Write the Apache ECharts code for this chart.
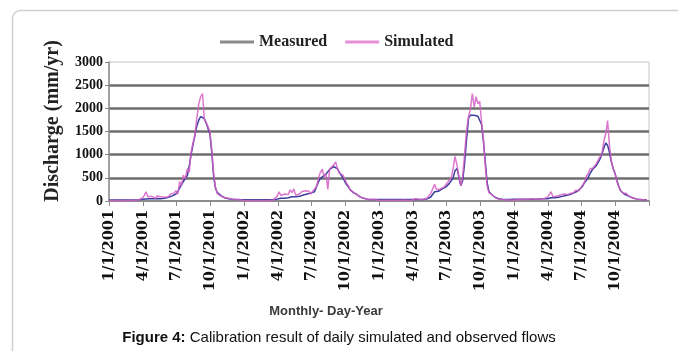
<!DOCTYPE html>
<html>
<head>
<meta charset="utf-8">
<script src="https://cdn.jsdelivr.net/npm/echarts@6/dist/echarts.min.js"></script>
<style>
html,body{margin:0;padding:0;background:#fff;}
#chart{width:678px;height:351px;}
</style>
</head>
<body>
<div id="chart"></div>
<script>
// sample days inside each month (pentads), years shown on the axis
const years = [2001, 2002, 2003, 2004];
const sampleDays = [1, 6, 11, 16, 21, 26];

// quarterly tick labels on the x axis
const tickLabels = ['1/1/2001','4/1/2001','7/1/2001','10/1/2001',
    '1/1/2002','4/1/2002','7/1/2002','10/1/2002',
    '1/1/2003','4/1/2003','7/1/2003','10/1/2003',
    '1/1/2004','4/1/2004','7/1/2004','10/1/2004'];

// measured discharge (mm/yr), one row per month
const measured = [
    // 2001
    20,20,20,20,20,20,  20,20,20,20,20,20,  20,20,22,25,25,30,
    40,50,45,60,50,45,  50,45,55,60,50,55,  60,70,80,90,110,130,
    150,200,280,350,420,480,  550,750,1000,1200,1400,1600,  1750,1820,1850,1780,1680,1650,
    1450,1050,550,280,180,150,  110,80,65,55,50,45,  40,40,35,35,30,30,
    // 2002
    25,25,25,25,25,25,  25,25,25,25,25,25,  25,25,25,30,30,35,
    40,50,60,50,60,70,  70,80,90,80,90,100,  100,120,130,140,150,160,
    170,180,200,300,400,480,  520,550,580,620,680,720,  740,760,700,620,560,500,
    420,350,300,240,200,170,  150,120,90,70,60,50,  40,40,35,35,30,30,
    // 2003
    30,30,30,30,30,30,  30,30,30,30,30,30,  30,30,30,30,30,30,
    35,35,40,40,35,35,  35,40,45,60,80,120,  200,180,210,230,260,280,
    300,340,380,420,500,650,  700,500,330,450,800,1300,  1800,1850,1870,1850,1850,1830,
    1800,1650,1300,850,400,200,  150,110,80,60,50,45,  40,40,35,35,30,30,
    // 2004
    40,40,40,40,40,40,  40,40,40,45,40,40,  40,40,45,45,50,50,
    50,60,70,60,70,80,  80,90,100,110,120,130,  140,150,170,190,210,240,
    280,330,400,450,520,600,  680,720,760,800,900,1000,  1150,1250,1200,1050,850,700,
    600,450,320,220,180,150,  130,110,90,70,60,50,  40,35,30,30,25,25
];

// simulated discharge (mm/yr), same sampling
const simulated = [
    // 2001
    10,10,10,10,10,10,  10,10,10,10,10,10,  10,10,15,15,20,20,
    60,110,200,90,70,100,  80,60,110,70,90,60,  80,120,90,150,110,170,
    220,150,420,330,560,480,  700,620,1050,1250,1380,1750,  2100,2250,2320,1750,1700,1600,
    1500,1100,600,300,160,140,  100,80,70,110,60,50,  40,35,30,30,25,25,
    // 2002
    10,10,10,10,10,10,  10,10,10,10,10,10,  10,10,10,15,20,30,
    100,200,120,80,150,110,  140,240,180,260,130,160,  150,200,170,220,180,210,
    150,210,180,300,470,600,  690,520,580,250,690,720,  780,846,700,600,580,560,
    550,380,330,230,210,180,  150,130,90,70,60,50,  40,35,35,30,30,25,
    // 2003
    15,15,15,15,15,15,  15,15,15,15,15,15,  15,15,20,20,15,15,
    20,30,50,40,30,25,  30,40,60,90,150,250,  360,250,220,260,290,300,
    350,400,430,500,700,960,  760,500,325,540,1000,1500,  1830,2000,2320,2030,2250,2100,
    2150,1700,1340,760,325,180,  150,110,80,60,40,35,  30,30,25,25,20,20,
    // 2004
    20,30,25,60,30,25,  30,60,40,30,50,30,  30,40,50,60,45,50,
    80,100,200,90,120,100,  100,130,110,150,120,140,  160,200,180,230,260,220,
    300,350,420,540,600,700,  700,750,800,820,950,1000,  1300,1450,1735,1200,870,700,
    600,420,320,230,180,150,  160,110,90,70,60,50,  40,30,30,25,25,20
];

// day offsets from 1/1/2001 for every sample
const dayOffsets = [];
years.forEach(function(y) {
    for (let m = 0; m < 12; m++) {
        sampleDays.forEach(function(d) {
            dayOffsets.push((Date.UTC(y, m, d) - Date.UTC(2001, 0, 1)) / 86400000);
        });
    }
});
const totalDays = (Date.UTC(2005, 0, 1) - Date.UTC(2001, 0, 1)) / 86400000;
const quarter = totalDays / 16;

function pairs(values) {
    return values.map(function(v, i) { return [dayOffsets[i], v]; });
}

const serif = 'Liberation Serif, Times New Roman, serif';
const chart = echarts.init(document.getElementById('chart'));

const option = {
    backgroundColor: '#fff',
    animation: false,
    grid: {
        left: 109, right: 29, top: 62, bottom: 150,
        show: true, borderColor: '#c4c4c4', borderWidth: 1
    },
    legend: {
        left: 215, top: 29,
        icon: 'rect',
        itemWidth: 34, itemHeight: 3, itemGap: 18,
        textStyle: {fontFamily: serif, fontWeight: 'bold', fontSize: 16, color: '#222'},
        data: [
            {name: 'Measured', itemStyle: {color: '#8a8a8a'}},
            {name: 'Simulated', itemStyle: {color: '#e58fd6'}}
        ]
    },
    xAxis: {
        type: 'value',
        min: 0, max: totalDays, interval: quarter,
        axisLine: {lineStyle: {color: '#8c8c8c', width: 2}},
        axisTick: {show: true, length: 5, lineStyle: {color: '#8c8c8c'}},
        splitLine: {show: false},
        axisLabel: {
            rotate: 90, margin: 9,
            fontFamily: 'DejaVu Serif, serif', fontWeight: 'bold', fontSize: 14.5, color: '#111',
            formatter: function(v) {
                return tickLabels[Math.round(v / quarter)] || '';
            }
        }
    },
    yAxis: {
        type: 'value',
        min: 0, max: 3000, interval: 500,
        axisLine: {show: true, lineStyle: {color: '#8c8c8c', width: 1.5}},
        axisTick: {show: true, length: 4, lineStyle: {color: '#8c8c8c'}},
        axisLabel: {
            margin: 6, fontFamily: serif, fontWeight: 'bold', fontSize: 14, color: '#111',
            formatter: function(v) { return String(v); }
        },
        splitLine: {
            show: true, showMinLine: false, showMaxLine: false,
            lineStyle: {color: '#6e6e6e', width: 2.5}
        }
    },
    series: [
        {
            name: 'Measured', type: 'line', symbol: 'none',
            lineStyle: {color: '#3a3d9e', width: 1.5},
            itemStyle: {color: '#3a3d9e'},
            data: pairs(measured)
        },
        {
            name: 'Simulated', type: 'line', symbol: 'none',
            lineStyle: {color: '#d660c4', width: 1.5, opacity: 0.85},
            itemStyle: {color: '#d660c4'},
            data: pairs(simulated)
        }
    ],
    graphic: [
        // card frame around the figure
        {
            type: 'rect', silent: true, z: -10,
            shape: {x: 12.5, y: 10.5, width: 720, height: 420, r: 8},
            style: {fill: 'none', stroke: '#cfcfcf', lineWidth: 1.5}
        },
        {
            type: 'text', x: 53, y: 121, rotation: Math.PI / 2,
            style: {
                text: 'Discharge (mm/yr)', fill: '#222',
                font: 'bold 20px ' + serif,
                textAlign: 'center', textVerticalAlign: 'middle'
            }
        },
        {
            type: 'text', x: 326, y: 311,
            style: {
                text: 'Monthly- Day-Year', fill: '#3a3a3a',
                font: 'bold 13px Liberation Sans, Arial, sans-serif',
                textAlign: 'center', textVerticalAlign: 'middle'
            }
        },
        {
            type: 'text', x: 339, y: 338,
            style: {
                text: '{b|Figure 4:} Calibration result of daily simulated and observed flows',
                fill: '#111',
                font: '15px Liberation Sans, Arial, sans-serif',
                textAlign: 'center', textVerticalAlign: 'middle',
                rich: {b: {fontWeight: 'bold', fontSize: 15, fontFamily: 'Liberation Sans, Arial, sans-serif'}}
            }
        }
    ]
};

chart.setOption(option);
</script>
</body>
</html>
